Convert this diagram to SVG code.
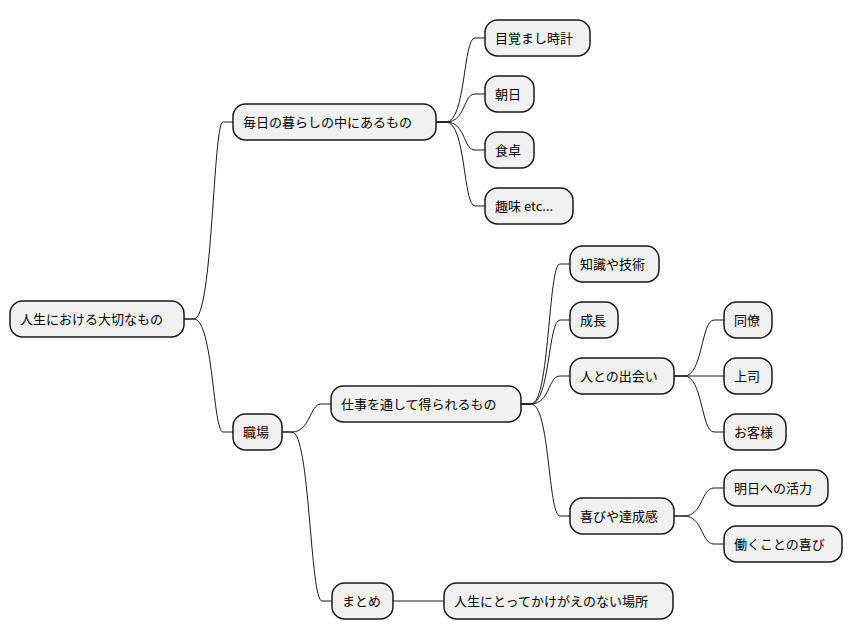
<svg xmlns="http://www.w3.org/2000/svg" width="853" height="641" viewBox="0 0 853 641">
<style>
.n rect{fill:#F1F1F1;stroke:#181818;stroke-width:1.5}
.n text{font-family:"Noto Sans CJK JP","Noto Sans",sans-serif;font-size:13px;fill:#000}
.e path{fill:none;stroke:#181818;stroke-width:1}
</style>
<rect width="853" height="641" fill="#FFFFFF"/>
<g class="e">
<path d="M184,319 H194 C213,319 213,122 223,122 H233"/>
<path d="M184,319 H194 C213,319 213,432 223,432 H233"/>
<path d="M436,122 H446 C466,122 463,38 475,38 H485"/>
<path d="M436,122 H446 C466,122 463,94 475,94 H485"/>
<path d="M436,122 H446 C466,122 463,150 475,150 H485"/>
<path d="M436,122 H446 C466,122 463,206 475,206 H485"/>
<path d="M282,432 H292 C310,432 310,404 321,404 H331"/>
<path d="M282,432 H292 C310,432 310,601 322,601 H332"/>
<path d="M521,404 H531 C550,404 548,264 560,264 H570"/>
<path d="M521,404 H531 C550,404 548,320 560,320 H570"/>
<path d="M521,404 H531 C550,404 548,376 560,376 H570"/>
<path d="M521,404 H531 C550,404 548,516 560,516 H570"/>
<path d="M674,376 H684 C703,376 701,320 714,320 H724"/>
<path d="M674,376 H724"/>
<path d="M674,376 H684 C703,376 701,432 714,432 H724"/>
<path d="M674,516 H684 C703,516 701,488 714,488 H724"/>
<path d="M674,516 H684 C703,516 701,544 714,544 H724"/>
<path d="M393,601 H444"/>
</g>
<g id="root" class="n"><rect x="10" y="301" width="174" height="36" rx="12.5"/><text x="20" y="324">人生における大切なもの</text></g>
<g id="daily" class="n"><rect x="233" y="104" width="203" height="36" rx="12.5"/><text x="243" y="127">毎日の暮らしの中にあるもの</text></g>
<g id="clock" class="n"><rect x="485" y="20" width="105" height="36" rx="12.5"/><text x="495" y="43">目覚まし時計</text></g>
<g id="sun" class="n"><rect x="485" y="76" width="49" height="36" rx="12.5"/><text x="495" y="99">朝日</text></g>
<g id="table" class="n"><rect x="485" y="132" width="49" height="36" rx="12.5"/><text x="495" y="155">食卓</text></g>
<g id="hobby" class="n"><rect x="485" y="188" width="88" height="36" rx="12.5"/><text x="495" y="211">趣味 etc...</text></g>
<g id="work" class="n"><rect x="233" y="414" width="49" height="36" rx="12.5"/><text x="243" y="437">職場</text></g>
<g id="gain" class="n"><rect x="331" y="386" width="190" height="36" rx="12.5"/><text x="341" y="409">仕事を通して得られるもの</text></g>
<g id="skill" class="n"><rect x="570" y="246" width="89" height="36" rx="12.5"/><text x="580" y="269">知識や技術</text></g>
<g id="growth" class="n"><rect x="570" y="302" width="48" height="36" rx="12.5"/><text x="580" y="325">成長</text></g>
<g id="meet" class="n"><rect x="570" y="358" width="104" height="36" rx="12.5"/><text x="580" y="381">人との出会い</text></g>
<g id="colleague" class="n"><rect x="724" y="302" width="48" height="36" rx="12.5"/><text x="734" y="325">同僚</text></g>
<g id="boss" class="n"><rect x="724" y="358" width="48" height="36" rx="12.5"/><text x="734" y="381">上司</text></g>
<g id="customer" class="n"><rect x="724" y="414" width="62" height="36" rx="12.5"/><text x="734" y="437">お客様</text></g>
<g id="joy" class="n"><rect x="570" y="498" width="104" height="36" rx="12.5"/><text x="580" y="521">喜びや達成感</text></g>
<g id="energy" class="n"><rect x="724" y="470" width="104" height="36" rx="12.5"/><text x="734" y="493">明日への活力</text></g>
<g id="workjoy" class="n"><rect x="724" y="526" width="118" height="36" rx="12.5"/><text x="734" y="549">働くことの喜び</text></g>
<g id="summary" class="n"><rect x="332" y="583" width="61" height="36" rx="12.5"/><text x="342" y="606">まとめ</text></g>
<g id="place" class="n"><rect x="444" y="583" width="229" height="36" rx="12.5"/><text x="454" y="606">人生にとってかけがえのない場所</text></g>
</svg>
